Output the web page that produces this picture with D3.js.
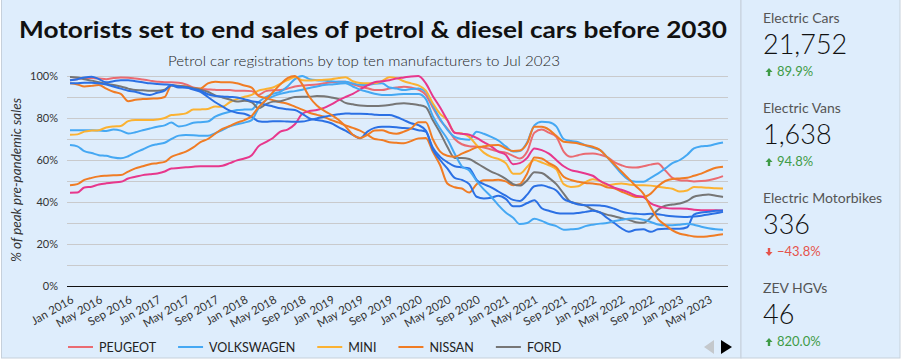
<!DOCTYPE html>
<html lang="en">
<head>
<meta charset="utf-8">
<script src="https://d3js.org/d3.v7.min.js"></script>
<title>Motorists set to end sales of petrol &amp; diesel cars before 2030</title>
<style>
  body { margin: 0; background: #fff; }
  svg text { font-family: Lato, "Noto Sans", sans-serif; }
</style>
</head>
<body>
<svg id="chart" width="904" height="362"></svg>
<script>
// ---- data: % of peak pre-pandemic sales, monthly Jan 2016 .. Jul 2023
const firstMonth = new Date(Date.UTC(2016, 0, 1));
const lastMonth = new Date(Date.UTC(2023, 6, 1));
const months = d3.utcMonths(firstMonth, d3.utcMonth.offset(lastMonth, 1));

const peugeot = [98, 98.5, 99, 99, 98.8, 98.5, 99, 99.3, 99.2, 98.8, 98.3, 97.8, 97.3, 97, 97,
  96.8, 96, 94.5, 93.8, 93.6, 93.4, 93.3, 93.3, 93, 93, 92.8, 91, 92.8, 93.2, 93.3,
  94, 95, 95.5, 95.7, 96, 96.5, 97, 97.3, 97.3, 96, 95, 94.2, 93.3, 93.3, 94,
  94.5, 94.9, 94.5, 93.5, 91, 85, 79, 75, 70, 67.5, 66.6, 66.4, 66, 65, 64,
  63.5, 62, 60.7, 64, 73, 74.5, 73, 71, 64, 61.5, 62.3, 63, 63.1, 62.5, 61.5,
  59, 57.5, 56.5, 56.4, 57, 57.8, 58.3, 55, 51.5, 50.4, 50.2, 49.8, 50, 50.4, 51.2, 52.3];
const volkswagen = [74.2, 74.2, 74.2, 74.2, 74, 73.8, 74.5, 74, 72.6, 73.2, 74.2, 75, 75.8, 76.5, 77.8,
  76, 76.5, 77.7, 78, 78.3, 80.6, 82, 83, 83.8, 84, 84.1, 87.5, 90, 91.5, 92.5,
  95, 98.5, 100, 98.5, 98, 97.8, 97.5, 97.3, 97.3, 96.5, 95.8, 95.7, 96.3, 96.5, 94.5,
  94, 93.3, 93.8, 94.1, 92.5, 86, 79.5, 74.5, 71, 70, 69.7, 73.5, 72.5, 71, 69.3,
  66.5, 64, 64.3, 68.5, 76.5, 78.2, 78, 76, 70, 69, 68.5, 67, 65.8, 64.7, 61.5,
  57.5, 53.5, 50.5, 49.6, 49.6, 51.5, 53.5, 56, 58.5, 60, 62.5, 65.5, 66.5, 66.8, 67.6, 68.3];
const mini = [72, 72.2, 73.5, 74, 74.2, 75.5, 76, 76.2, 78.5, 79, 79, 79, 79.3, 80, 81.4,
  81.7, 82.2, 84, 84.1, 84.3, 85.5, 85.3, 87.5, 89, 90.1, 91, 93, 93.8, 94.5, 96.3,
  98, 99.5, 98, 97.8, 98, 98.2, 98.5, 99, 99.4, 97.5, 96.7, 96.5, 96.5, 97.5, 99.4,
  99, 97.5, 96.5, 95.5, 93, 87, 82, 79, 73, 72.6, 71, 67, 63.5, 61.5, 60.5,
  58.5, 53.5, 53.5, 56.8, 60, 58.8, 57.5, 55.5, 48.5, 47.2, 47.5, 49.5, 50.8, 50, 48,
  48.5, 48.8, 48.3, 48, 48, 47.8, 47.3, 46.8, 46.3, 45, 45.5, 47.2, 47, 46.8, 46.5, 46.4];
const nissan = [96.5, 96, 95, 95.3, 95.7, 94, 92.5, 91.5, 88, 88.7, 89, 89.2, 89.3, 90, 95.5,
  95.3, 95, 94.2, 94, 96.5, 97.3, 97, 97, 96.5, 95.5, 94.5, 90.5, 89.5, 88.5, 87.5,
  86.8, 85.4, 84, 82.5, 81.5, 80.6, 79, 77.8, 76.5, 75.3, 74, 72, 70, 69.5, 68.5,
  68.2, 68, 69, 70.3, 70.5, 64, 57.5, 48.8, 47, 46.4, 44.5, 48.5, 50.4, 50.4, 50.6,
  49.8, 48, 48.5, 53.6, 61.2, 60.7, 58.5, 56.5, 52, 50.5, 49.6, 49, 48.8, 48.3, 47,
  46.5, 45, 43.5, 42.4, 42.4, 44, 47.5, 50, 51, 51.2, 51.5, 52.5, 53.5, 55, 56.3, 56.8];
const ford = [99.5, 99.3, 98.5, 97.8, 97, 96.3, 95.7, 95, 94, 93.3, 93.2, 93, 93, 93.5, 95.5,
  95.2, 94.9, 94.2, 93.5, 92.5, 90.8, 89.8, 88.8, 87.8, 88.2, 87.5, 84.6, 86.5, 87.8, 88,
  89, 90, 90.1, 90.1, 90.5, 90.3, 89.8, 89, 87.2, 86.5, 85.9, 85.7, 85.7, 85.8, 86.2,
  86.8, 87, 86.7, 86.2, 85.2, 79, 73, 66.3, 61, 61, 60.5, 58.5, 56.5, 54.5, 53,
  51, 48.5, 47.8, 50.4, 54.2, 53.8, 51.5, 48.5, 44, 40, 39.2, 38.3, 36.3, 35, 34,
  33.2, 32.3, 31.5, 30.4, 30.1, 32.5, 36.3, 38.2, 38.8, 39.3, 40.5, 42.5, 43.2, 43.6, 43, 42.4];
const make6 = [44.4, 44.5, 46.9, 47.3, 48.3, 48.9, 49.3, 49.6, 51.2, 52, 52.8, 53.2, 53.6, 54.5, 56,
  56.2, 56.5, 56.8, 57, 57, 57, 57.3, 58.5, 59.8, 60.7, 62.3, 66.5, 68.5, 70.5, 73.5,
  74.5, 77, 82, 83.3, 83.8, 84.8, 86.5, 88.5, 90, 91.5, 93.5, 95.5, 97, 97.5, 98,
  98.8, 99.3, 99.8, 100, 96.5, 90.5, 85, 79, 73, 72.5, 72, 70.5, 68.5, 66.5, 64,
  62.5, 58, 58.5, 61, 65.5, 64.7, 63, 60, 57, 55.2, 54.4, 53.6, 52.5, 50, 48.5,
  46.8, 45.8, 44.5, 43, 42.4, 39.3, 38, 37.2, 36.9, 36.9, 36.8, 36.3, 36.1, 36.1, 36.1, 36];
const make7 = [96.5, 96.6, 96.8, 96.8, 96.5, 96, 95, 94, 93, 92.5, 91.5, 91, 92, 93, 95.7,
  95, 94.5, 93.8, 93, 91.3, 90.5, 90.2, 90, 89.8, 89, 88, 87.5, 86.3, 85.5, 84.6,
  84.2, 83.8, 82, 79.8, 79, 78.5, 77.5, 75.5, 74, 72, 70.3, 73.5, 75.3, 75.8, 75.8,
  75.6, 75.2, 75, 74.2, 73.5, 65, 60, 56, 51.5, 50.5, 48.5, 42.5, 41.7, 42, 43,
  41.5, 38, 38, 39.5, 40.8, 37, 35.8, 34.8, 34.5, 34.5, 34.8, 35.3, 35.8, 35, 32.5,
  30, 27.5, 25.8, 26.8, 27, 25.8, 27, 27.3, 27.3, 27.3, 28, 34, 35, 35.4, 35.8, 36];
const make8 = [98, 98.5, 99.3, 99.7, 98.5, 97, 97.5, 98, 98, 97.5, 97, 96.5, 96.2, 96, 95.7,
  94.5, 94.5, 93.5, 92.5, 90, 87.5, 85.5, 83.5, 82.5, 82, 80.5, 78.5, 78.2, 78.5, 78.5,
  78.3, 78.2, 78.3, 79, 79.8, 80.6, 81.2, 81.8, 82.2, 82, 82, 81.9, 81.6, 81.4, 81.4,
  80.5, 79, 77.5, 76.6, 74, 66, 61.5, 59, 57, 56.5, 56, 50.5, 48.5, 47, 45,
  43, 41, 40.5, 43.5, 47.5, 48, 47, 45.5, 41.5, 40, 38.8, 38.5, 38.5, 38.3, 37.9,
  36.8, 35.5, 34.7, 34.4, 34.2, 34.4, 34.2, 33.6, 33.2, 33, 32.9, 33.1, 33.5, 34, 34.6, 35.3];
const make9 = [67.1, 66.5, 64.2, 63.3, 62.3, 62, 61.2, 60.8, 61.8, 63.5, 65, 66.6, 67.5, 68.2, 70,
  71.6, 71.9, 71.8, 71.6, 71.5, 72.8, 74.3, 76, 77, 77.8, 79, 84.6, 88.5, 90.3, 91.5,
  92.3, 92.8, 93.5, 94.3, 95, 95.7, 96, 96.3, 96.5, 95, 93.5, 92.5, 91.5, 91, 91,
  91.2, 91.4, 91.4, 91.4, 89, 81, 75, 70, 63, 57, 55, 50, 46, 42.5, 38.5,
  35, 32.5, 29.5, 30, 32, 31, 29.5, 28.5, 26.8, 27, 27.3, 28.5, 29.2, 29.7, 30,
  31, 31.5, 32, 32.1, 31.5, 30.5, 29.3, 28.9, 28.9, 29.2, 29.7, 29.2, 28.2, 27.5, 27, 26.8];
const make10 = [48, 48.5, 50.5, 51.5, 52.2, 52.5, 52.7, 52.8, 54.5, 56, 57, 58, 58.5, 59.1, 61.5,
  62.8, 64, 66, 68.5, 70, 72.5, 74.8, 76.2, 77.8, 79, 81, 85, 88.5, 92.3, 96,
  99, 100, 96, 90, 86, 83.5, 81.5, 79, 76, 72, 70.5, 72, 74, 74.2, 73,
  72.5, 73.5, 75, 78, 78, 70, 64, 62, 61.5, 63, 64.5, 66, 66.5, 67, 67.1,
  65.5, 64.3, 64.5, 68, 75.8, 75.8, 74.5, 71.5, 68.7, 68.3, 67.9, 67, 66.3, 64.7, 61.5,
  58, 54.5, 51, 47.5, 44, 37.5, 32, 29, 26.5, 24.9, 24.2, 23.6, 23.4, 23.7, 24.2, 24.6];

const seriesNames = ['PEUGEOT', 'VOLKSWAGEN', 'MINI', 'NISSAN', 'FORD',
  'MAKE 6', 'MAKE 7', 'MAKE 8', 'MAKE 9', 'MAKE 10'];
const seriesValues = [peugeot, volkswagen, mini, nissan, ford, make6, make7, make8, make9, make10];
const seriesColors = ['#ea6b72', '#45a8f3', '#fbb232', '#f07c24', '#767676',
  '#e7378c', '#2b70e4', '#2b70e4', '#45a8f3', '#f07c24'];
const legendCount = 5;

const yTicks = [0, 20, 40, 60, 80, 100];

const statLabels = ['Electric Cars', 'Electric Vans', 'Electric Motorbikes', 'ZEV HGVs'];
const statValues = [21752, 1638, 336, 46];
const statChanges = [89.9, 94.8, -43.8, 820.0];

// ---- layout
const bg = '#deedfc';
const svg = d3.select('#chart');

svg.append('rect').attr('x', 1.5).attr('y', -1).attr('width', 739.5).attr('height', 359)
  .attr('fill', bg).attr('stroke', '#c6d0db');
svg.append('rect').attr('x', 741).attr('y', -1).attr('width', 159).attr('height', 359)
  .attr('fill', bg).attr('stroke', '#c6d0db');

svg.append('text')
  .attr('x', 373).attr('y', 38)
  .attr('text-anchor', 'middle')
  .attr('font-size', 23).attr('font-weight', 700).attr('fill', '#111')
  .attr('textLength', 708).attr('lengthAdjust', 'spacingAndGlyphs')
  .text('Motorists set to end sales of petrol & diesel cars before 2030');

svg.append('text')
  .attr('x', 364).attr('y', 66)
  .attr('text-anchor', 'middle')
  .attr('font-size', 13.5).attr('font-weight', 300).attr('fill', '#222')
  .attr('textLength', 392).attr('lengthAdjust', 'spacingAndGlyphs')
  .text('Petrol car registrations by top ten manufacturers to Jul 2023');

const plot = {left: 67, right: 728, top: 76, bottom: 286};
const x = d3.scaleUtc().domain([firstMonth, lastMonth]).range([70, 723]);
const y = d3.scaleLinear().domain([0, 100]).range([plot.bottom, plot.top]);

// gridlines
svg.append('g').selectAll('line')
  .data(d3.range(10, 101, 10))
  .join('line')
  .attr('x1', plot.left).attr('x2', plot.right)
  .attr('y1', d => y(d) + 0.5).attr('y2', d => y(d) + 0.5)
  .attr('stroke', '#c9cacc').attr('stroke-width', 1);

// y axis
const yAxis = svg.append('g')
  .attr('transform', `translate(${plot.left},0)`)
  .call(d3.axisLeft(y).tickValues(yTicks).tickFormat(d => d + '%').tickSize(0).tickPadding(9));
yAxis.select('.domain').remove();
yAxis.selectAll('text').attr('font-size', 11).attr('fill', '#333')
  .style('font-family', 'Lato, "Noto Sans", sans-serif');

svg.append('text')
  .attr('transform', `translate(21,180) rotate(-90)`)
  .attr('text-anchor', 'middle')
  .attr('font-size', 12.5).attr('font-style', 'italic').attr('fill', '#333')
  .attr('textLength', 164).attr('lengthAdjust', 'spacingAndGlyphs')
  .text('% of peak pre-pandemic sales');

// lines
const line = d3.line()
  .x((d, i) => x(months[i]))
  .y(d => y(d))
  .curve(d3.curveMonotoneX);

svg.append('g').selectAll('path')
  .data(seriesValues)
  .join('path')
  .attr('d', d => line(d))
  .attr('fill', 'none')
  .attr('stroke', (d, i) => seriesColors[i])
  .attr('stroke-width', 2)
  .attr('stroke-linejoin', 'round');

// x axis
svg.append('line')
  .attr('x1', plot.left).attr('x2', plot.right)
  .attr('y1', plot.bottom + 0.5).attr('y2', plot.bottom + 0.5)
  .attr('stroke', '#111').attr('stroke-width', 1.2);

const xAxis = svg.append('g')
  .attr('transform', `translate(0,${plot.bottom})`)
  .call(d3.axisBottom(x)
    .tickValues(d3.utcMonth.every(4).range(firstMonth, d3.utcMonth.offset(lastMonth, 1)))
    .tickFormat(d3.utcFormat('%b %Y'))
    .tickSize(0));
xAxis.select('.domain').remove();
xAxis.selectAll('text')
  .attr('font-size', 11.5).attr('fill', '#333')
  .style('font-family', 'Lato, "Noto Sans", sans-serif')
  .attr('text-anchor', 'end')
  .attr('dy', 0)
  .attr('y', 0)
  .attr('transform', 'translate(4,16) rotate(-30)');

// legend (first page)
const legend = svg.append('g').attr('transform', 'translate(68,347)');
let lx = 0;
seriesNames.slice(0, legendCount).forEach((name, i) => {
  const g = legend.append('g').attr('transform', `translate(${lx},0)`);
  g.append('line').attr('x1', 0).attr('x2', 25).attr('y1', 0).attr('y2', 0)
    .attr('stroke', seriesColors[i]).attr('stroke-width', 2);
  const t = g.append('text').attr('x', 31).attr('dy', '0.36em')
    .attr('font-size', 12.5).attr('fill', '#222').text(name);
  lx += 31 + t.node().getComputedTextLength() + 22;
});

// pager arrows
svg.append('path').attr('d', 'M714,340 L714,354 L704,347 Z').attr('fill', '#c4c8cc');
svg.append('path').attr('d', 'M721,340 L721,354 L732,347 Z').attr('fill', '#000');

// ---- scorecards
const fmt = d3.format(',');
const cards = svg.append('g').selectAll('g')
  .data(statLabels)
  .join('g')
  .attr('transform', (d, i) => `translate(763,${23 + i * 90})`);

cards.append('text').attr('font-size', 14).attr('fill', '#555').text(d => d);
cards.append('text').attr('y', 31).attr('font-size', 27).attr('font-weight', 300).attr('fill', '#111')
  .text((d, i) => fmt(statValues[i]));
cards.append('path')
  .attr('d', (d, i) => statChanges[i] >= 0
    ? 'M4,45 L7.5,49 L5.2,49 L5.2,53 L2.8,53 L2.8,49 L0.5,49 Z'
    : 'M4,53 L7.5,49 L5.2,49 L5.2,45 L2.8,45 L2.8,49 L0.5,49 Z')
  .attr('transform', 'translate(2,0)')
  .attr('fill', (d, i) => statChanges[i] >= 0 ? '#3f9b47' : '#e5534b');
cards.append('text').attr('x', 14).attr('y', 53).attr('font-size', 13)
  .attr('fill', (d, i) => statChanges[i] >= 0 ? '#3f9b47' : '#e5534b')
  .text((d, i) => d3.format('.1f')(statChanges[i]) + '%');
</script>
</body>
</html>
